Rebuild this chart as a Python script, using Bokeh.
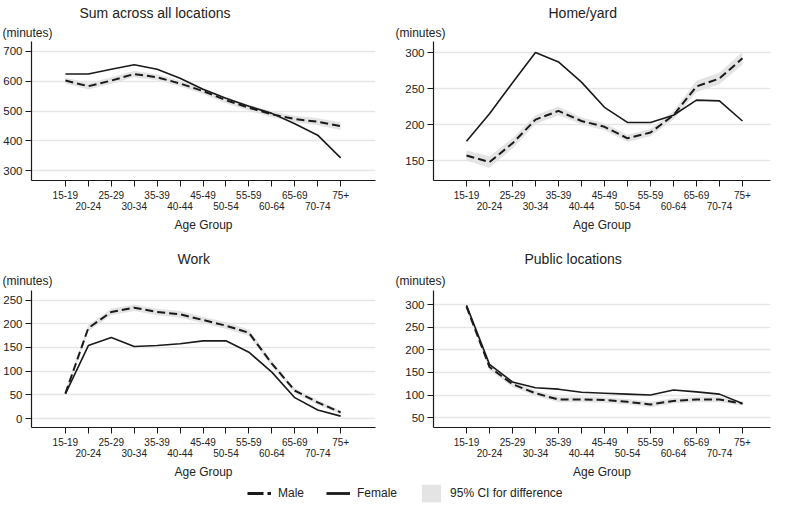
from bokeh.plotting import figure
from bokeh.models import Title, FixedTicker, Range1d, Legend, LegendItem, ColumnDataSource
from bokeh.layouts import column, row
from bokeh.embed import file_html
from bokeh.resources import INLINE

age_groups = ["15-19", "20-24", "25-29", "30-34", "35-39", "40-44", "45-49",
              "50-54", "55-59", "60-64", "65-69", "70-74", "75+"]

sum_female = [624, 624, 640, 655, 640, 610, 573, 543, 516, 492, 457, 419, 343]
sum_male = [602, 583, 602, 624, 613, 592, 567, 536, 511, 489, 473, 464, 449]
sum_ci = [10, 11, 11, 11, 10, 10, 10, 10, 10, 10, 11, 12, 13]

home_female = [177, 215, 258, 300, 287, 259, 224, 203, 203, 213, 234, 233, 205]
home_male = [157, 148, 174, 207, 219, 205, 197, 181, 189, 213, 253, 264, 292]
home_ci = [7, 8, 7, 6, 6, 5, 5, 5, 5, 6, 8, 8, 9]

work_female = [52, 154, 171, 152, 154, 158, 164, 164, 140, 98, 44, 18, 5]
work_male = [53, 191, 225, 234, 225, 220, 208, 196, 181, 116, 59, 34, 13]
work_ci = [5, 7, 7, 7, 7, 7, 7, 7, 7, 6, 5, 5, 4]

public_female = [299, 168, 129, 116, 113, 106, 104, 102, 100, 111, 107, 102, 81]
public_male = [296, 162, 124, 104, 90, 90, 89, 85, 79, 87, 90, 90, 81]
public_ci = [7, 7, 6, 6, 6, 6, 6, 6, 6, 6, 6, 6, 5]

sum_ticks = [300, 400, 500, 600, 700]
home_ticks = [150, 200, 250, 300]
work_ticks = [0, 50, 100, 150, 200, 250]
public_ticks = [50, 100, 150, 200, 250, 300]

legend_labels = ["Male", "Female", "95% CI for difference"]

FONT = "Liberation Sans"
TXT = "#222222"
LINE = "#1a1a1a"
BAND = "#e4e4e4"
GRID = "#e6e6e6"
DASH = "8 4"


def make_panel(title, title_off, mins_off, mins_standoff, female, male, ci, yticks, yr, xr,
               width, height, left, right, top, bottom):
    p = figure(width=width, height=height, x_range=Range1d(*xr), y_range=Range1d(*yr),
               output_backend="svg", toolbar_location=None, title=None,
               min_border_left=left, min_border_right=right,
               min_border_top=top, min_border_bottom=bottom)
    p.outline_line_color = None
    p.background_fill_color = "white"
    p.border_fill_color = "white"
    p.add_layout(Title(text="(minutes)", align="left", offset=mins_off, standoff=mins_standoff,
                       text_font=FONT, text_font_size="12px", text_font_style="normal",
                       text_color=TXT), "above")
    p.add_layout(Title(text=title, align="left", offset=title_off, standoff=4,
                       text_font=FONT, text_font_size="14px", text_font_style="normal",
                       text_color=TXT), "above")
    idx = list(range(len(age_groups)))
    src = ColumnDataSource(dict(
        x=idx, female=female, male=male,
        lo=[m - c for m, c in zip(male, ci)],
        hi=[m + c for m, c in zip(male, ci)]))
    p.varea(x="x", y1="lo", y2="hi", source=src, fill_color=BAND)
    p.line(x="x", y="male", source=src, line_color=LINE, line_width=2, line_dash=DASH)
    p.line(x="x", y="female", source=src, line_color=LINE, line_width=1.6)

    p.xgrid.visible = False
    p.ygrid.grid_line_color = GRID
    p.ygrid.grid_line_width = 1.5
    p.ygrid.ticker = FixedTicker(ticks=yticks)

    xa = p.xaxis[0]
    xa.ticker = FixedTicker(ticks=idx)
    xa.major_label_overrides = {i: (lab if i % 2 == 0 else "\n" + lab)
                                for i, lab in enumerate(age_groups)}
    xa.axis_label = "Age Group"
    xa.axis_label_text_font = FONT
    xa.axis_label_text_font_size = "12px"
    xa.axis_label_text_font_style = "normal"
    xa.axis_label_text_color = TXT
    xa.axis_label_standoff = 3
    xa.major_label_text_font = FONT
    xa.major_label_text_font_size = "10px"
    xa.major_label_text_color = TXT
    xa.major_label_text_line_height = 1.0
    xa.major_label_standoff = 3
    xa.major_tick_out = 6
    xa.major_tick_in = 0
    xa.minor_tick_out = 0
    xa.minor_tick_in = 0
    xa.axis_line_color = LINE
    xa.major_tick_line_color = LINE
    xa.axis_line_width = 1.2

    ya = p.yaxis[0]
    ya.ticker = FixedTicker(ticks=yticks)
    ya.major_label_text_font = FONT
    ya.major_label_text_font_size = "11.5px"
    ya.major_label_text_color = TXT
    ya.major_label_standoff = 3
    ya.major_tick_out = 6
    ya.major_tick_in = 0
    ya.minor_tick_out = 0
    ya.minor_tick_in = 0
    ya.axis_line_color = LINE
    ya.major_tick_line_color = LINE
    ya.axis_line_width = 1.2
    return p


XL = (-1.478, 13.52)
XR = (-1.435, 13.22)

p1 = make_panel("Sum across all locations", 48, -29, 3, sum_female, sum_male, sum_ci,
                sum_ticks, (267, 733), XL, 382, 234, 30, 7, 30, 50)
p2 = make_panel("Home/yard", 115, -38, 3, home_female, home_male, home_ci,
                home_ticks, (122.4, 315.4), XR, 389, 234, 51, 1, 30, 50)
p3 = make_panel("Work", 146, -29, 6, work_female, work_male, work_ci,
                work_ticks, (-19, 270.3), XL, 382, 247, 30, 7, 56, 48)
p4 = make_panel("Public locations", 91, -38, 6, public_female, public_male, public_ci,
                public_ticks, (28, 331.8), XR, 389, 247, 51, 1, 56, 48)

# legend strip: keys drawn from off-screen sample marks
leg = figure(width=771, height=23, x_range=Range1d(0, 1), y_range=Range1d(0, 1),
             output_backend="svg", toolbar_location=None, title=None,
             min_border_left=0, min_border_right=0, min_border_top=0, min_border_bottom=0)
leg.axis.visible = False
leg.grid.visible = False
leg.outline_line_color = None
esrc = ColumnDataSource(dict(x=[5, 6], y=[5, 5], y1=[5, 5], y2=[6, 6]))
r_m = leg.line(x="x", y="y", source=esrc, line_color=LINE, line_width=2.8, line_dash="16 4")
r_f = leg.line(x="x", y="y", source=esrc, line_color=LINE, line_width=2.8)
r_b = leg.varea(x="x", y1="y1", y2="y2", source=esrc, fill_color=BAND)
legend = Legend(items=[LegendItem(label=legend_labels[0], renderers=[r_m]),
                       LegendItem(label=legend_labels[1], renderers=[r_f]),
                       LegendItem(label=legend_labels[2], renderers=[r_b])],
                orientation="horizontal", location=(247, 0), padding=0, margin=0,
                spacing=22, label_standoff=7, glyph_width=24, glyph_height=22,
                border_line_color=None, background_fill_alpha=0,
                label_text_font=FONT, label_text_font_size="12px", label_text_color=TXT)
leg.add_layout(legend, "center")

layout = column(row(p1, p2), row(p3, p4), leg)
open("out.html", "w").write(file_html(layout, INLINE))
